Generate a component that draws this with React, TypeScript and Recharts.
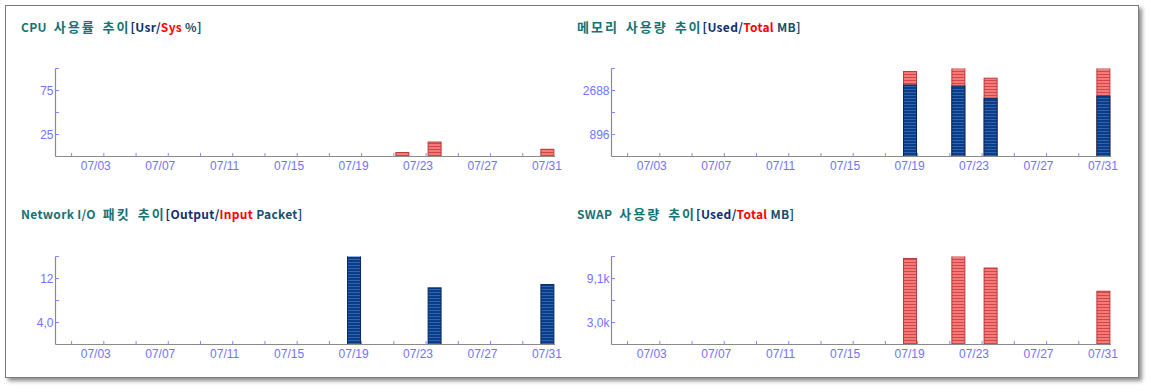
import React from "react";
import { BarChart, Bar, XAxis, YAxis } from "recharts";

const DAYS = [
  "07/01", "07/02", "07/03", "07/04", "07/05", "07/06", "07/07", "07/08",
  "07/09", "07/10", "07/11", "07/12", "07/13", "07/14", "07/15", "07/16",
  "07/17", "07/18", "07/19", "07/20", "07/21", "07/22", "07/23", "07/24",
  "07/25", "07/26", "07/27", "07/28", "07/29", "07/30", "07/31",
];
// labels shown under the axis
const LABEL_DAYS = ["07/03", "07/07", "07/11", "07/15", "07/19", "07/23", "07/27", "07/31"];
// tick marks sit on the boundary after these days
const MARK_DAYS = [
  "07/01", "07/03", "07/05", "07/07", "07/09", "07/11", "07/13", "07/15",
  "07/17", "07/19", "07/21", "07/23", "07/25", "07/27", "07/29",
];

const CPU_DAYS = ["07/22", "07/24", "07/31"];
const CPU_USR = [0, 0, 0];
const CPU_SYS = [4.5, 16.4, 8.2];
const CPU_TICKS = [25, 50, 75, 100];
const CPU_TICK_LABELS = ["25", "", "75", ""];

const MEM_DAYS = ["07/19", "07/22", "07/24", "07/31"];
const MEM_USED = [2910, 2870, 2370, 2460];
const MEM_TOTAL = [3460, 3690, 3190, 3690];
const MEM_TICKS = [896, 1792, 2688, 3584];
const MEM_TICK_LABELS = ["896", "", "2688", ""];

const NET_DAYS = ["07/19", "07/24", "07/31"];
const NET_OUTPUT = [16.3, 10.3, 10.9];
const NET_INPUT = [0, 0, 0];
const NET_TICKS = [4, 8, 12, 16];
const NET_TICK_LABELS = ["4,0", "", "12", ""];

const SWAP_DAYS = ["07/19", "07/22", "07/24", "07/31"];
const SWAP_USED = [0, 0, 0, 0];
const SWAP_TOTAL = [11870, 12370, 10550, 7350];
const SWAP_TICKS = [3035, 6070, 9105, 12140];
const SWAP_TICK_LABELS = ["3,0k", "", "9,1k", ""];

const TEAL = "#137373";
const NAVY = "#0e2f74";
const RED = "#ff0000";
const TICK_COLOR = "#7272ff";
const AXIS_COLOR = "#8a8a8a";
const FONT = "'Liberation Sans', Arial, sans-serif";
const TITLE_FONT = "'Noto Sans CJK KR', 'Liberation Sans', sans-serif";

function buildRows(days: string[], front: number[], back: number[]) {
  return DAYS.map((d) => {
    const i = days.indexOf(d);
    return {
      day: d,
      back: i >= 0 ? back[i] : null,
      front: i >= 0 ? front[i] : null,
    };
  });
}

function XTick(props: any) {
  const { x, y, payload, width } = props;
  const half =
    typeof payload.offset === "number" && payload.offset > 0
      ? payload.offset
      : width / (2 * DAYS.length);
  const day = payload.value;
  return (
    <g>
      {MARK_DAYS.includes(day) && (
        <line x1={x + half} x2={x + half} y1={y} y2={y - 3.5} stroke="#8686ff" />
      )}
      {LABEL_DAYS.includes(day) && (
        <text x={x} y={y + 13.5} textAnchor="middle" fill={TICK_COLOR} fontSize={12} fontFamily={FONT}>
          {day}
        </text>
      )}
    </g>
  );
}

function makeYTick(ticks: number[], labels: string[]) {
  return (props: any) => {
    const { x, y, payload } = props;
    const i = ticks.indexOf(payload.value);
    return (
      <g>
        <line x1={x} x2={x + 3.5} y1={y} y2={y} stroke="#8686ff" />
        <text x={x - 2} y={y} dy={4} textAnchor="end" fill={TICK_COLOR} fontSize={12} fontFamily={FONT}>
          {labels[i]}
        </text>
      </g>
    );
  };
}

// hangul runs are drawn wider than latin runs, like the bitmap font in the original
function splitRuns(text: string) {
  return text.split(/([\uAC00-\uD7A3 ]*[\uAC00-\uD7A3]+)/).filter((s) => s.length > 0);
}

function Title({ left, top, main, a, b, tail }: any) {
  const latin = { fontSize: 12, letterSpacing: 0.3 };
  return (
    <div
      style={{
        position: "absolute",
        left,
        top,
        fontFamily: TITLE_FONT,
        fontWeight: 700,
        lineHeight: "14px",
        whiteSpace: "pre",
        color: TEAL,
      }}
    >
      {splitRuns(main).map((s, i) =>
        /[\uAC00-\uD7A3]/.test(s) ? (
          <span key={i} style={{ fontSize: 13, letterSpacing: 2, wordSpacing: 2 }}>{s}</span>
        ) : (
          <span key={i} style={latin}>{s}</span>
        )
      )}
      <span style={{ ...latin, color: NAVY }}>[{a}/</span>
      <span style={{ ...latin, color: RED }}>{b}</span>
      <span style={{ ...latin, color: "#164f6e" }}>{tail}]</span>
    </div>
  );
}

function BarShape(props: any) {
  const { x, y, width, height, fill, stroke } = props;
  if (!height || height <= 0 || !isFinite(y)) return null;
  return <rect x={x} y={y} width={width} height={height} fill={fill} stroke={stroke} strokeWidth={1} />;
}

function Panel({ left, top, rows, ticks, labels }: any) {
  const max = ticks[ticks.length - 1];
  return (
    <div style={{ position: "absolute", left, top }}>
      <BarChart
        width={585}
        height={190}
        data={rows}
        margin={{ top: 68.5, right: 30, bottom: 0, left: 0 }}
        barGap={-13}
      >
        <defs>
          <pattern id="stripeBlue" patternUnits="userSpaceOnUse" width={4} height={3}>
            <rect width={4} height={3} fill="#0b3c84" />
            <rect y={2} width={4} height={1} fill="#2d66b4" />
          </pattern>
          <pattern id="stripeRed" patternUnits="userSpaceOnUse" width={4} height={3}>
            <rect width={4} height={3} fill="#f47b7b" />
            <rect y={2} width={4} height={1} fill="#d24646" />
          </pattern>
        </defs>
        <XAxis
          dataKey="day"
          interval={0}
          height={33.5}
          tickSize={0}
          tickMargin={0}
          tickLine={false}
          axisLine={{ stroke: AXIS_COLOR, strokeWidth: 1.2 }}
          tick={<XTick />}
        />
        <YAxis
          type="number"
          domain={[0, max]}
          ticks={ticks}
          interval={0}
          allowDataOverflow
          width={55.5}
          tickSize={0}
          tickMargin={0}
          tickLine={false}
          axisLine={{ stroke: AXIS_COLOR, strokeWidth: 1.2 }}
          tick={makeYTick(ticks, labels)}
        />
        <Bar
          dataKey="back"
          barSize={13}
          fill="url(#stripeRed)"
          stroke="#b83a3a"
          shape={<BarShape />}
          isAnimationActive={false}
        />
        <Bar
          dataKey="front"
          barSize={13}
          fill="url(#stripeBlue)"
          stroke="#062a5e"
          shape={<BarShape />}
          isAnimationActive={false}
        />
      </BarChart>
    </div>
  );
}

export default function App() {
  return (
    <div
      style={{
        position: "absolute",
        left: 0,
        top: 0,
        width: 1151,
        height: 392,
        background: "#ffffff",
        overflow: "hidden",
      }}
    >
      <div
        style={{
          position: "absolute",
          left: 5,
          top: 5,
          width: 1134,
          height: 373,
          boxSizing: "border-box",
          border: "1px solid #7a7a7a",
          boxShadow: "3px 3px 4px rgba(0,0,0,0.45)",
          background: "#ffffff",
        }}
      />
      <Title left={21} top={18} main="CPU 사용률 추이" a="Usr" b="Sys" tail=" %" />
      <Title left={577} top={18} main="메모리 사용량 추이" a="Used" b="Total" tail=" MB" />
      <Title left={21} top={205} main="Network I/O 패킷 추이" a="Output" b="Input" tail=" Packet" />
      <Title left={577} top={205} main="SWAP 사용량 추이" a="Used" b="Total" tail=" MB" />

      <Panel left={0} top={0} rows={buildRows(CPU_DAYS, CPU_USR, CPU_SYS)} ticks={CPU_TICKS} labels={CPU_TICK_LABELS} />
      <Panel left={556} top={0} rows={buildRows(MEM_DAYS, MEM_USED, MEM_TOTAL)} ticks={MEM_TICKS} labels={MEM_TICK_LABELS} />
      <Panel left={0} top={188} rows={buildRows(NET_DAYS, NET_OUTPUT, NET_INPUT)} ticks={NET_TICKS} labels={NET_TICK_LABELS} />
      <Panel left={556} top={188} rows={buildRows(SWAP_DAYS, SWAP_USED, SWAP_TOTAL)} ticks={SWAP_TICKS} labels={SWAP_TICK_LABELS} />
    </div>
  );
}
